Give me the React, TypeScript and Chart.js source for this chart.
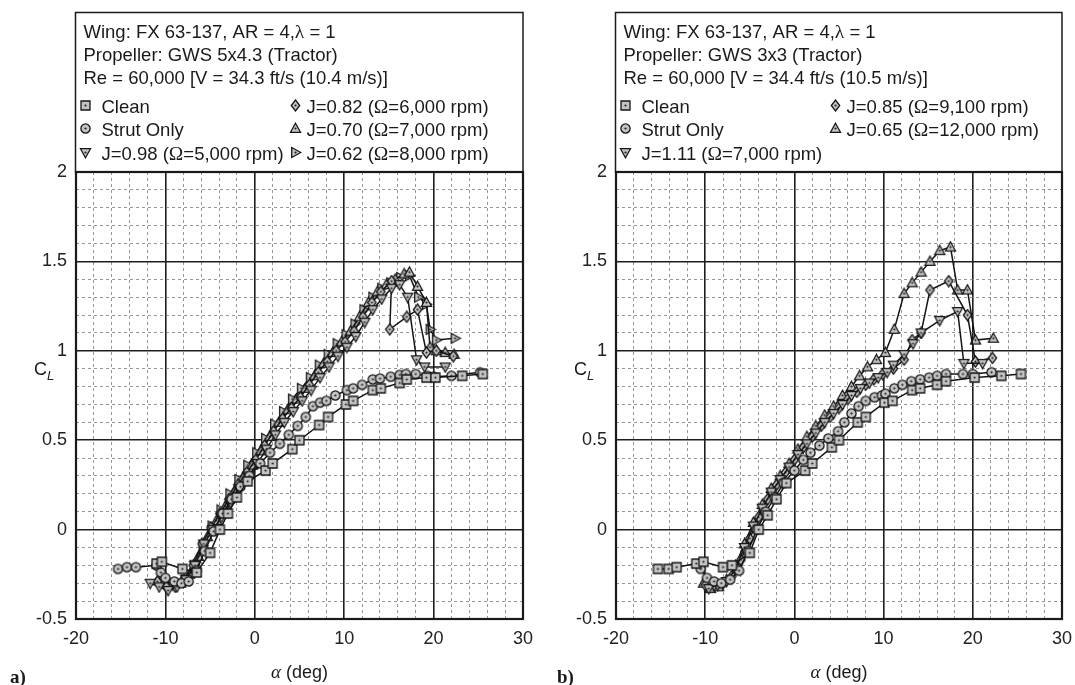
import React, { useEffect, useRef } from 'react';
import { Chart, registerables } from 'chart.js';
Chart.register(...registerables);

const SANS = '"Liberation Sans", Arial, Helvetica, sans-serif';
const SERIF = '"Liberation Serif", "Times New Roman", serif';

// ---------- axis ticks ----------
const xMin = -20, xMax = 30, xMinor = 2, xMajor = 10;
const yMin = -0.5, yMax = 2, yMinor = 0.1, yMajor = 0.5;

// ---------- panel a) texts ----------
const aLines = [
  'Wing: FX 63-137, AR = 4,λ = 1',
  'Propeller: GWS 5x4.3 (Tractor)',
  'Re = 60,000 [V = 34.3 ft/s (10.4 m/s)]',
];
const aLabels = ['Clean', 'Strut Only', 'J=0.98 (Ω=5,000 rpm)', 'J=0.82 (Ω=6,000 rpm)', 'J=0.70 (Ω=7,000 rpm)', 'J=0.62 (Ω=8,000 rpm)'];

// ---------- panel a) data ----------
const aCleanAlpha = [-11, -10.4, -8.1, -6.5, -5, -3.9, -3, -2, -0.8, 1.2, 2, 4.2, 5, 7.2, 8.2, 10.2, 11, 13.2, 14.1, 16.2, 17, 19.2, 20.2, 23.2, 25.5];
const aCleanCl = [-0.19, -0.18, -0.22, -0.24, -0.13, 0.0, 0.09, 0.18, 0.27, 0.33, 0.37, 0.45, 0.5, 0.585, 0.63, 0.7, 0.72, 0.78, 0.79, 0.82, 0.84, 0.85, 0.85, 0.86, 0.87];

const aStrutAlpha = [-15.3, -14.3, -13.3, -11, -10.5, -10, -9, -8.2, -7.4, -6.5, -5.6, -4.6, -3.6, -2.6, -1.6, -0.6, 0.6, 1.7, 2.8, 3.8, 4.8, 5.7, 6.5, 7.3, 8, 9, 10.3, 11, 12, 13.2, 14, 15.2, 16.2, 16.9, 18, 19.3, 20, 22, 25.2];
const aStrutCl = [-0.22, -0.21, -0.21, -0.2, -0.24, -0.27, -0.29, -0.3, -0.29, -0.23, -0.12, -0.01, 0.09, 0.17, 0.24, 0.3, 0.37, 0.43, 0.48, 0.53, 0.58, 0.63, 0.69, 0.71, 0.72, 0.75, 0.78, 0.79, 0.81, 0.84, 0.845, 0.855, 0.865, 0.87, 0.87, 0.86, 0.855, 0.86, 0.88];

const aJ098Alpha = [-11.7, -10.7, -9.7, -8.7, -7.7, -6.7, -5.7, -4.7, -3.7, -2.7, -1.7, -0.7, 0.3, 1.3, 2.3, 3.3, 4.3, 5.3, 6.3, 7.3, 8.3, 9.3, 10.3, 11.3, 12.3, 13.2, 14.2, 15.3, 16.2, 17.1, 18.1, 19, 21.3];
const aJ098Cl = [-0.3, -0.32, -0.34, -0.32, -0.28, -0.2, -0.08, 0.0, 0.07, 0.15, 0.23, 0.3, 0.37, 0.45, 0.53, 0.6, 0.66, 0.72, 0.78, 0.85, 0.91, 0.97, 1.02, 1.08, 1.16, 1.23, 1.29, 1.35, 1.37, 1.3, 0.95, 0.91, 0.91];

const aJ082Alpha = [-10.9, -9.9, -8.9, -7.9, -6.9, -5.9, -4.9, -3.9, -2.9, -1.9, -0.9, 0.1, 1.1, 2.1, 3.1, 4.1, 5.1, 6.1, 7.1, 8.1, 9.1, 10.1, 11.1, 12.1, 13.1, 14.1, 15.3, 15.1, 17, 18.2, 19.2, 20.3, 22.2];
const aJ082Cl = [-0.29, -0.32, -0.32, -0.28, -0.2, -0.08, 0.01, 0.09, 0.17, 0.25, 0.32, 0.39, 0.47, 0.55, 0.62, 0.68, 0.74, 0.81, 0.88, 0.94, 1.0, 1.05, 1.11, 1.19, 1.27, 1.33, 1.39, 1.12, 1.19, 1.23, 0.99, 1.0, 0.97];

const aJ070Alpha = [-10.3, -9.3, -8.3, -7.3, -6.3, -5.3, -4.3, -3.3, -2.3, -1.3, -0.3, 0.7, 1.7, 2.7, 3.7, 4.7, 5.7, 6.7, 7.7, 8.7, 9.7, 10.7, 11.7, 12.7, 13.7, 14.7, 15.7, 16.7, 17.3, 18.2, 19.2, 19.6, 20.3, 21.3, 22.3];
const aJ070Cl = [-0.27, -0.31, -0.3, -0.25, -0.15, -0.04, 0.05, 0.13, 0.21, 0.29, 0.36, 0.44, 0.52, 0.6, 0.67, 0.73, 0.79, 0.86, 0.93, 0.99, 1.05, 1.11, 1.19, 1.27, 1.33, 1.37, 1.4, 1.43, 1.44, 1.36, 1.27, 1.02, 1.0, 0.99, 0.98];

const aJ062Alpha = [-9.8, -8.8, -7.8, -6.8, -5.8, -4.8, -3.8, -2.8, -1.8, -0.8, 0.2, 1.2, 2.2, 3.2, 4.2, 5.2, 6.2, 7.2, 8.2, 9.2, 10.2, 11.2, 12.2, 13.2, 14.2, 15.2, 16.3, 17.3, 18.3, 19.2, 19.6, 20.3, 22.4];
const aJ062Cl = [-0.3, -0.31, -0.28, -0.2, -0.09, 0.02, 0.11, 0.2, 0.28, 0.36, 0.43, 0.51, 0.59, 0.66, 0.73, 0.79, 0.85, 0.92, 0.98, 1.04, 1.09, 1.15, 1.23, 1.3, 1.35, 1.38, 1.41, 1.42, 1.3, 1.26, 1.12, 1.06, 1.07];

// ---------- panel b) texts ----------
const bLines = [
  'Wing: FX 63-137, AR = 4,λ = 1',
  'Propeller: GWS 3x3 (Tractor)',
  'Re = 60,000 [V = 34.4 ft/s (10.5 m/s)]',
];
const bLabels = ['Clean', 'Strut Only', 'J=1.11 (Ω=7,000 rpm)', 'J=0.85 (Ω=9,100 rpm)', 'J=0.65 (Ω=12,000 rpm)'];

// ---------- panel b) data ----------
const bCleanAlpha = [-15.3, -14.1, -13.2, -11, -10.2, -8, -7, -5, -4, -3, -2, -0.9, 1.2, 2, 4.2, 5, 7.1, 8, 10.1, 11, 13.2, 14.1, 16, 17, 20.2, 23.2, 25.4];
const bCleanCl = [-0.22, -0.22, -0.21, -0.19, -0.18, -0.21, -0.2, -0.13, 0.0, 0.08, 0.17, 0.26, 0.33, 0.37, 0.46, 0.5, 0.6, 0.63, 0.71, 0.72, 0.78, 0.79, 0.81, 0.83, 0.85, 0.86, 0.87];

const bStrutAlpha = [-10.5, -9.8, -9, -8.2, -7.2, -6.2, -5.2, -4.2, -3.2, -2.2, -1.2, 0, 1, 1.8, 2.8, 3.8, 4.9, 5.6, 6.4, 7.2, 8, 9, 9.8, 10.2, 11.2, 12.1, 13.1, 14.1, 15.1, 16, 17, 18.9, 20, 22.1];
const bStrutCl = [-0.22, -0.27, -0.29, -0.3, -0.28, -0.23, -0.12, 0.0, 0.1, 0.18, 0.26, 0.33, 0.39, 0.43, 0.47, 0.51, 0.55, 0.6, 0.65, 0.69, 0.72, 0.74, 0.75, 0.76, 0.79, 0.81, 0.83, 0.84, 0.85, 0.86, 0.87, 0.87, 0.87, 0.88];

const bJ111Alpha = [-9.6, -8.6, -7.6, -6.6, -5.6, -4.6, -3.6, -2.6, -1.6, -0.6, 0.4, 1.4, 2.4, 3.4, 4.4, 5.4, 6.4, 7.4, 8.4, 9.4, 10.4, 11.1, 12.3, 13.3, 14.2, 16.3, 18.3, 19.0, 21.1];
const bJ111Cl = [-0.33, -0.31, -0.29, -0.22, -0.1, 0.02, 0.12, 0.21, 0.28, 0.35, 0.42, 0.48, 0.54, 0.6, 0.65, 0.7, 0.75, 0.79, 0.82, 0.85, 0.88, 0.92, 0.98, 1.04, 1.1, 1.17, 1.22, 0.93, 0.93];

const bJ085Alpha = [-10, -9, -8, -7, -6, -5, -4, -3, -2, -1, 0, 1, 2, 3, 4, 5, 6, 7, 8, 8.9, 9.9, 11.1, 12.3, 13.2, 14.2, 15.2, 17.3, 19.4, 20.3, 22.2];
const bJ085Cl = [-0.31, -0.31, -0.3, -0.26, -0.17, -0.05, 0.07, 0.17, 0.25, 0.32, 0.39, 0.46, 0.52, 0.58, 0.63, 0.68, 0.73, 0.77, 0.81, 0.84, 0.87, 0.9, 0.95, 1.06, 1.1, 1.34, 1.39, 1.2, 0.94, 0.96];

const bJ065Alpha = [-10.2, -9.4, -8.5, -7.6, -6.6, -5.6, -4.6, -3.6, -2.6, -1.6, -0.6, 0.4, 1.4, 2.4, 3.4, 4.4, 5.4, 6.4, 7.3, 8.2, 9.2, 10.2, 11.2, 12.3, 13.2, 14.2, 15.2, 16.3, 17.5, 18.3, 19.4, 20.3, 22.3];
const bJ065Cl = [-0.3, -0.33, -0.32, -0.28, -0.2, -0.08, 0.04, 0.14, 0.23, 0.3, 0.37, 0.45, 0.52, 0.58, 0.64, 0.69, 0.75, 0.8, 0.86, 0.91, 0.95, 0.99, 1.12, 1.32, 1.38, 1.44, 1.5, 1.56, 1.58, 1.34, 1.34, 1.06, 1.07];

type Shape = 'square' | 'circle' | 'triDown' | 'diamond' | 'triUp' | 'triRight';

interface Series { label: string; shape: Shape; alpha: number[]; cl: number[] }
interface PanelCfg { lines: string[]; series: Series[]; col1: number; tag: string; tagX: number }

const panelA: PanelCfg = {
  lines: aLines,
  series: [
    { label: aLabels[0], shape: 'square', alpha: aCleanAlpha, cl: aCleanCl },
    { label: aLabels[1], shape: 'circle', alpha: aStrutAlpha, cl: aStrutCl },
    { label: aLabels[2], shape: 'triDown', alpha: aJ098Alpha, cl: aJ098Cl },
    { label: aLabels[3], shape: 'diamond', alpha: aJ082Alpha, cl: aJ082Cl },
    { label: aLabels[4], shape: 'triUp', alpha: aJ070Alpha, cl: aJ070Cl },
    { label: aLabels[5], shape: 'triRight', alpha: aJ062Alpha, cl: aJ062Cl },
  ],
  col1: 3, tag: 'a)', tagX: 10,
};

const panelB: PanelCfg = {
  lines: bLines,
  series: [
    { label: bLabels[0], shape: 'square', alpha: bCleanAlpha, cl: bCleanCl },
    { label: bLabels[1], shape: 'circle', alpha: bStrutAlpha, cl: bStrutCl },
    { label: bLabels[2], shape: 'triDown', alpha: bJ111Alpha, cl: bJ111Cl },
    { label: bLabels[3], shape: 'diamond', alpha: bJ085Alpha, cl: bJ085Cl },
    { label: bLabels[4], shape: 'triUp', alpha: bJ065Alpha, cl: bJ065Cl },
  ],
  col1: 3, tag: 'b)', tagX: 17,
};

function makeMarker(shape: Shape): HTMLCanvasElement {
  const c = document.createElement('canvas');
  c.width = 13; c.height = 13;
  const g = c.getContext('2d')!;
  g.translate(6.5, 6.5);
  g.beginPath();
  switch (shape) {
    case 'square': g.rect(-4.5, -4.5, 9, 9); break;
    case 'circle': g.arc(0, 0, 4.6, 0, Math.PI * 2); break;
    case 'triUp': g.moveTo(0, -5.3); g.lineTo(5, 3.8); g.lineTo(-5, 3.8); g.closePath(); break;
    case 'triDown': g.moveTo(0, 5.3); g.lineTo(5, -3.8); g.lineTo(-5, -3.8); g.closePath(); break;
    case 'diamond': g.moveTo(0, -5.5); g.lineTo(4.2, 0); g.lineTo(0, 5.5); g.lineTo(-4.2, 0); g.closePath(); break;
    case 'triRight': g.moveTo(5.3, 0); g.lineTo(-3.8, -5); g.lineTo(-3.8, 5); g.closePath(); break;
  }
  g.fillStyle = '#c4c4c4';
  g.fill();
  g.lineWidth = 1.3;
  g.strokeStyle = '#161616';
  g.stroke();
  g.beginPath();
  g.arc(0, 0, 1.1, 0, Math.PI * 2);
  g.fillStyle = '#222';
  g.fill();
  return c;
}

function drawRich(ctx: CanvasRenderingContext2D, text: string, x: number, y: number, size: number) {
  let cx = x;
  const runs = text.split(/([λΩα])/).filter((s) => s.length > 0);
  for (const r of runs) {
    const greek = /^[λΩα]$/.test(r);
    ctx.font = `${greek ? size + 1 : size}px ${greek ? SERIF : SANS}`;
    ctx.fillText(r, cx, y);
    cx += ctx.measureText(r).width;
  }
}

const near = (v: number, step: number) => Math.abs(v / step - Math.round(v / step)) < 1e-6;

function buildChart(canvas: HTMLCanvasElement, cfg: PanelCfg) {
  const markers = cfg.series.map((s) => makeMarker(s.shape));
  const decor = {
    id: 'decor',
    afterDraw(chart: any) {
      const { ctx, chartArea: ca } = chart;
      ctx.save();
      ctx.strokeStyle = '#1a1a1a';
      ctx.lineWidth = 2.2;
      ctx.strokeRect(ca.left, ca.top, ca.right - ca.left, ca.bottom - ca.top);
      // legend box
      const bx = ca.left - 0.5, by = 12.5;
      ctx.lineWidth = 1.5;
      ctx.strokeRect(bx, by, ca.right - bx, ca.top - by);
      ctx.fillStyle = '#1a1a1a';
      ctx.textAlign = 'left';
      ctx.textBaseline = 'alphabetic';
      const fs = 18.5;
      const baseY = [25, 48, 71];
      cfg.lines.forEach((t, i) => drawRich(ctx, t, bx + 8, by + baseY[i], fs));
      const rowY = [100, 123, 147];
      cfg.series.forEach((s, i) => {
        const col = i < cfg.col1 ? 0 : 1;
        const row = col === 0 ? i : i - cfg.col1;
        const yb = by + rowY[row];
        const mx = bx + (col === 0 ? 10 : 220);
        const tx = bx + (col === 0 ? 26 : 231);
        const m = markers[i];
        ctx.drawImage(m, Math.round(mx - m.width / 2), Math.round(yb - 7 - m.height / 2));
        ctx.fillStyle = '#1a1a1a';
        drawRich(ctx, s.label, tx, yb, fs);
      });
      // y title C_L
      const cx = ca.left - 42;
      ctx.font = `18px ${SANS}`;
      ctx.fillText('C', cx, 375);
      const cw = ctx.measureText('C').width;
      ctx.font = `italic 13px ${SANS}`;
      ctx.fillText('L', cx + cw, 380);
      // x title
      ctx.font = `italic 19px ${SERIF}`;
      const aw = ctx.measureText('α').width;
      ctx.font = `18px ${SANS}`;
      const rest = ' (deg)';
      const rw = ctx.measureText(rest).width;
      const midX = (ca.left + ca.right) / 2;
      const sx = midX - (aw + rw) / 2;
      ctx.font = `italic 19px ${SERIF}`;
      ctx.fillText('α', sx, 678);
      ctx.font = `18px ${SANS}`;
      ctx.fillText(rest, sx + aw, 678);
      // panel tag
      ctx.font = `bold 19px ${SERIF}`;
      ctx.fillText(cfg.tag, cfg.tagX, 683);
      ctx.restore();
    },
  };

  return new Chart(canvas, {
    type: 'scatter',
    data: {
      datasets: cfg.series.map((s, i) => ({
        label: s.label,
        data: s.alpha.map((a, k) => ({ x: a, y: s.cl[k] })),
        showLine: true,
        borderColor: '#141414',
        borderWidth: 1.5,
        pointStyle: markers[i] as any,
        pointRadius: 5,
        fill: false,
        tension: 0,
      })),
    },
    options: {
      animation: false,
      responsive: false,
      maintainAspectRatio: false,
      layout: { padding: { top: 172, right: 17, bottom: 0, left: 0 } },
      plugins: { legend: { display: false }, tooltip: { enabled: false }, title: { display: false } },
      scales: {
        x: {
          type: 'linear',
          min: xMin,
          max: xMax,
          afterFit: (s: any) => { s.height = 66; },
          ticks: {
            stepSize: xMinor,
            autoSkip: false,
            maxRotation: 0,
            padding: 6,
            color: '#222',
            font: { family: SANS, size: 18, lineHeight: 1.6 },
            callback: (v: any) => (near(Number(v), xMajor) ? String(Math.round(Number(v))) : ''),
          },
          grid: {
            drawTicks: false,
            color: (c: any) => (near(c.tick.value, xMajor) ? '#1e1e1e' : '#7c7c7c'),
            lineWidth: (c: any) => (near(c.tick.value, xMajor) ? 1.6 : 0.8),
          },
          border: { display: false, dash: (c: any) => (near(c.tick.value, xMajor) ? [] : [3, 3]) } as any,
        },
        y: {
          type: 'linear',
          min: yMin,
          max: yMax,
          afterFit: (s: any) => { s.width = 76; },
          ticks: {
            stepSize: yMinor,
            autoSkip: false,
            padding: 9,
            color: '#222',
            font: { family: SANS, size: 18 },
            callback: (v: any) => (near(Number(v), yMajor) ? String(Math.round(Number(v) * 10) / 10) : ''),
          },
          grid: {
            drawTicks: false,
            color: (c: any) => (near(c.tick.value, yMajor) ? '#1e1e1e' : '#7c7c7c'),
            lineWidth: (c: any) => (near(c.tick.value, yMajor) ? 1.6 : 0.8),
          },
          border: { display: false, dash: (c: any) => (near(c.tick.value, yMajor) ? [] : [3, 3]) } as any,
        },
      },
    } as any,
    plugins: [decor],
  });
}

export default function App() {
  const ref1 = useRef<HTMLCanvasElement>(null);
  const ref2 = useRef<HTMLCanvasElement>(null);
  useEffect(() => {
    const c1 = buildChart(ref1.current!, panelA);
    const c2 = buildChart(ref2.current!, panelB);
    return () => { c1.destroy(); c2.destroy(); };
  }, []);
  return (
    <div style={{ position: 'fixed', left: 0, top: 0, width: 1075, height: 685, background: '#fff', overflow: 'hidden' }}>
      <canvas ref={ref1} width={540} height={685} style={{ position: 'absolute', left: 0, top: 0 }} />
      <canvas ref={ref2} width={539} height={685} style={{ position: 'absolute', left: 540, top: 0 }} />
    </div>
  );
}
